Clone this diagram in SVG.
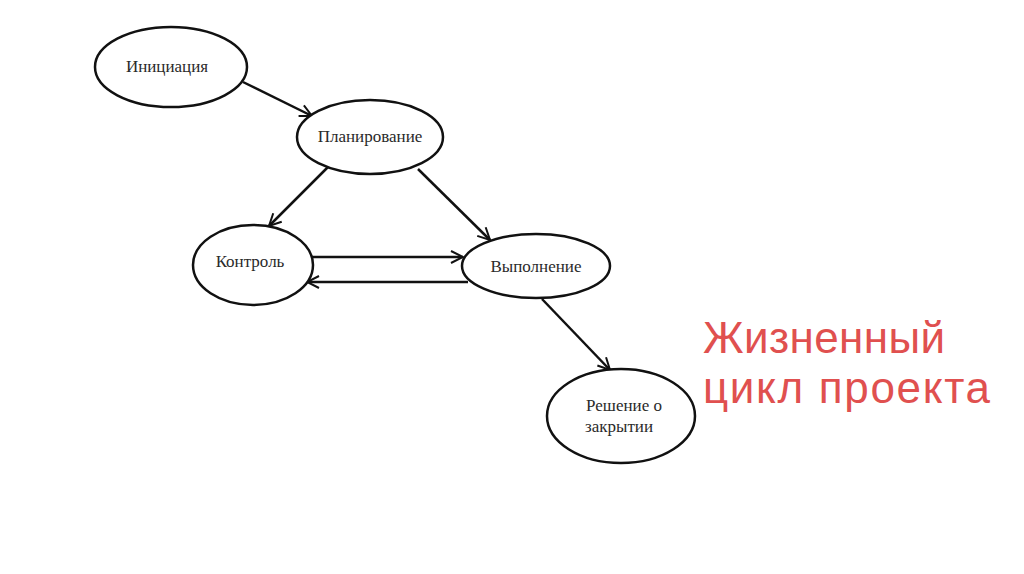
<svg xmlns="http://www.w3.org/2000/svg" width="1024" height="574" viewBox="0 0 1024 574">
<style>
.n{fill:#fff;stroke:#111;stroke-width:2.5}
.t{font-family:"Liberation Serif","DejaVu Serif",serif;font-size:17px;fill:#2a2a2a;text-anchor:middle}
.c{stroke:#111;stroke-width:2.5;fill:none;marker-end:url(#a)}
.r{font-family:"Liberation Sans","DejaVu Sans",sans-serif;font-size:44px;fill:#e0504f}
</style>
<defs>
<marker id="a" viewBox="0 0 14 14" refX="13" refY="7" markerWidth="14" markerHeight="14" markerUnits="userSpaceOnUse" orient="auto">
<polyline points="1,1 13,7 1,13" fill="none" stroke="#111" stroke-width="2"/>
</marker>
</defs>
<rect width="1024" height="574" fill="#fff"/>
<g id="connectors">
<line class="c" x1="243" y1="82" x2="312" y2="116"/>
<line class="c" x1="328" y1="167" x2="269" y2="226"/>
<line class="c" x1="418" y1="169" x2="490" y2="240"/>
<line class="c" x1="311" y1="257" x2="463" y2="257"/>
<line class="c" x1="468" y1="282" x2="307" y2="282"/>
<line class="c" x1="542" y1="299" x2="610" y2="370"/>
</g>
<g id="n1"><ellipse class="n" cx="171" cy="67" rx="76" ry="40"/><text class="t" x="167" y="72">Инициация</text></g>
<g id="n2"><ellipse class="n" cx="370" cy="137" rx="73" ry="37"/><text class="t" x="370" y="142">Планирование</text></g>
<g id="n3"><ellipse class="n" cx="253" cy="265" rx="60" ry="40"/><text class="t" x="250" y="267">Контроль</text></g>
<g id="n4"><ellipse class="n" cx="536" cy="266" rx="74" ry="32"/><text class="t" x="536" y="272">Выполнение</text></g>
<g id="n5"><ellipse class="n" cx="621" cy="416" rx="74" ry="47"/><text class="t" x="624" y="411">Решение о</text><text class="t" x="619" y="432">закрытии</text></g>
<g id="title"><text class="r" x="703" y="353" textLength="242" lengthAdjust="spacing">Жизненный</text><text class="r" x="703" y="403" textLength="287" lengthAdjust="spacing">цикл проекта</text></g>
</svg>
